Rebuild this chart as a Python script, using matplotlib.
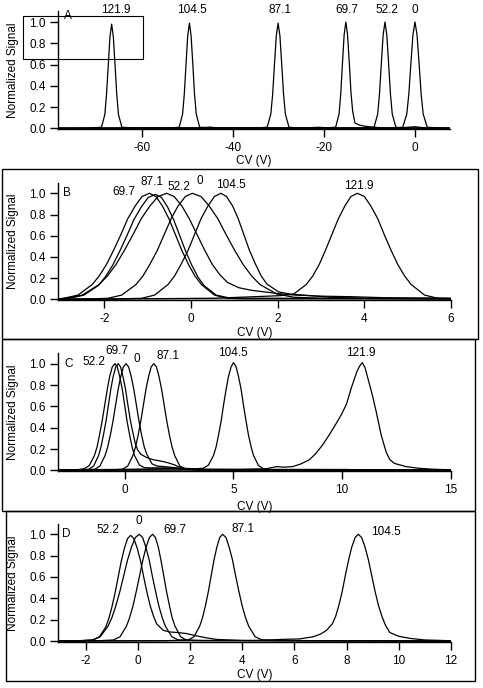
import matplotlib
matplotlib.use("Agg")
import matplotlib.pyplot as plt
from matplotlib.patches import Rectangle

plt.rcParams['font.family'] = ['Liberation Sans', 'DejaVu Sans']
plt.rcParams['font.size'] = 8.5
plt.rcParams['axes.unicode_minus'] = False

# ---------------- panel A ----------------
a_x_1219 = [-78.5, -72, -68.95, -68.2, -67.83, -67.45, -67.08, -66.7, -66.33, -65.95, -65.58, -65.2, -64.45, -61, -57, -55, 7.7]
a_y_1219 = [0.0, 0.002, 0.01, 0.13, 0.32, 0.59, 0.86, 0.98, 0.86, 0.59, 0.32, 0.13, 0.01, 0.003, 0.006, 0.002, 0.0]
a_x_1045 = [-78.5, -55, -51.85, -51.1, -50.73, -50.35, -49.98, -49.6, -49.23, -48.85, -48.48, -48.1, -47.35, -46, -45, -43.5, 7.7]
a_y_1045 = [0.0, 0.002, 0.01, 0.135, 0.32, 0.60, 0.87, 0.99, 0.87, 0.60, 0.32, 0.135, 0.01, 0.008, 0.012, 0.003, 0.0]
a_x_871 = [-78.5, -36, -32.5, -31.7, -31.3, -30.9, -30.5, -30.1, -29.7, -29.3, -28.9, -28.5, -27.7, -25, -21, -19, 7.7]
a_y_871 = [0.0, 0.002, 0.01, 0.135, 0.32, 0.60, 0.87, 0.99, 0.87, 0.60, 0.32, 0.135, 0.01, 0.003, 0.01, 0.002, 0.0]
a_x_697 = [-78.5, -21, -17.45, -16.7, -16.33, -15.95, -15.58, -15.2, -14.83, -14.45, -14.08, -13.7, -13.2, -12.2, -11.0, -9.0, -6, 7.7]
a_y_697 = [0.0, 0.002, 0.01, 0.135, 0.32, 0.61, 0.88, 1.0, 0.88, 0.62, 0.34, 0.16, 0.05, 0.03, 0.02, 0.01, 0.003, 0.0]
a_x_522 = [-78.5, -12, -9.0, -8.2, -7.8, -7.4, -7.0, -6.6, -6.2, -5.8, -5.4, -5.0, -4.2, -3, -1, 0, 1, 2.5, 7.7]
a_y_522 = [0.0, 0.002, 0.01, 0.135, 0.325, 0.61, 0.88, 1.0, 0.88, 0.61, 0.325, 0.135, 0.01, 0.005, 0.012, 0.015, 0.01, 0.002, 0.0]
a_x_0 = [-78.5, -6, -2.7, -1.8, -1.35, -0.9, -0.45, 0.0, 0.45, 0.9, 1.35, 1.8, 2.7, 7.7]
a_y_0 = [0.0, 0.002, 0.01, 0.135, 0.325, 0.61, 0.88, 1.0, 0.88, 0.61, 0.325, 0.135, 0.01, 0.0]
a_labels = ['121.9', '104.5', '87.1', '69.7', '52.2', '0']
a_label_x = [-65.9, -49.1, -29.7, -15.0, -6.1, 0.0]
a_label_y = [1.113, 1.113, 1.113, 1.113, 1.113, 1.113]

# ---------------- panel B ----------------
b_x_697 = [-3.07, -2.94, -2.61, -2.28, -2.12, -1.95, -1.79, -1.62, -1.46, -1.29, -1.13, -0.96, -0.81, -0.66, -0.51, -0.36, -0.21, -0.06, 0.09, 0.24, 0.54, 0.84, 1.2, 6.0]
b_y_697 = [0.003, 0.01, 0.04, 0.14, 0.22, 0.33, 0.46, 0.61, 0.76, 0.88, 0.97, 1.0, 0.97, 0.88, 0.76, 0.61, 0.46, 0.33, 0.22, 0.14, 0.04, 0.01, 0.005, 0.005]
b_x_871 = [-3.07, -2.80, -2.47, -2.14, -1.98, -1.81, -1.65, -1.48, -1.32, -1.15, -0.99, -0.82, -0.68, -0.54, -0.40, -0.26, -0.12, 0.02, 0.16, 0.30, 0.58, 0.86, 1.3, 6.0]
b_y_871 = [0.004, 0.01, 0.04, 0.13, 0.21, 0.32, 0.45, 0.60, 0.75, 0.87, 0.96, 0.99, 0.96, 0.87, 0.75, 0.60, 0.45, 0.32, 0.21, 0.13, 0.04, 0.015, 0.01, 0.005]
b_x_522 = [-3.07, -2.90, -2.51, -2.12, -1.93, -1.73, -1.54, -1.34, -1.15, -0.95, -0.76, -0.56, -0.39, -0.21, -0.04, 0.14, 0.32, 0.49, 0.67, 0.84, 1.1, 1.4, 1.7, 2.0, 2.4, 3.0, 3.7, 4.5, 6.0]
b_y_522 = [0.005, 0.01, 0.04, 0.14, 0.22, 0.33, 0.46, 0.61, 0.76, 0.88, 0.97, 1.0, 0.97, 0.88, 0.76, 0.61, 0.46, 0.33, 0.23, 0.16, 0.11, 0.085, 0.07, 0.055, 0.04, 0.03, 0.025, 0.015, 0.01]
b_x_0 = [-3.07, -2.3, -1.92, -1.60, -1.27, -1.11, -0.95, -0.78, -0.62, -0.46, -0.30, -0.13, 0.03, 0.23, 0.42, 0.62, 0.81, 1.01, 1.20, 1.40, 1.59, 1.98, 2.37, 3.0, 6.0]
b_y_0 = [0.0, 0.004, 0.01, 0.04, 0.14, 0.22, 0.33, 0.46, 0.61, 0.76, 0.88, 0.97, 1.0, 0.97, 0.88, 0.76, 0.61, 0.46, 0.33, 0.22, 0.14, 0.05, 0.02, 0.01, 0.005]
b_x_1045 = [-3.07, -1.8, -1.14, -0.84, -0.53, -0.38, -0.23, -0.07, 0.08, 0.23, 0.39, 0.54, 0.69, 0.82, 0.96, 1.09, 1.22, 1.35, 1.49, 1.62, 1.75, 2.02, 2.28, 2.6, 3.2, 4.0, 6.0]
b_y_1045 = [0.0, 0.003, 0.01, 0.04, 0.14, 0.22, 0.33, 0.46, 0.61, 0.76, 0.88, 0.97, 1.0, 0.97, 0.88, 0.76, 0.61, 0.46, 0.33, 0.22, 0.145, 0.07, 0.05, 0.04, 0.02, 0.01, 0.005]
b_x_1219 = [-3.07, 0.5, 1.78, 2.07, 2.37, 2.66, 2.81, 2.96, 3.10, 3.25, 3.40, 3.55, 3.69, 3.84, 4.00, 4.15, 4.31, 4.46, 4.62, 4.77, 4.93, 5.08, 5.39, 5.70, 6.01]
b_y_1219 = [0.0, 0.01, 0.03, 0.035, 0.05, 0.14, 0.22, 0.33, 0.46, 0.61, 0.76, 0.88, 0.97, 1.0, 0.97, 0.88, 0.76, 0.61, 0.46, 0.33, 0.22, 0.14, 0.04, 0.01, 0.003]
b_gray_x = [-3.07, 6.0]
b_gray_y = [0.002, 0.012]
b_labels = ['69.7', '87.1', '52.2', '0', '104.5', '121.9']
b_label_x = [-1.56, -0.91, -0.28, 0.21, 0.93, 3.88]
b_label_y = [1.01, 1.11, 1.06, 1.12, 1.08, 1.07]

# ---------------- panel C ----------------
c_x_522 = [-3.08, -2.3, -1.87, -1.64, -1.40, -1.28, -1.17, -1.05, -0.93, -0.81, -0.70, -0.58, -0.46, -0.35, -0.24, -0.12, -0.01, 0.10, 0.22, 0.33, 0.44, 0.67, 0.89, 1.5, 2.4, 3.2, 15.0]
c_y_522 = [0.0, 0.003, 0.015, 0.045, 0.14, 0.22, 0.33, 0.46, 0.61, 0.76, 0.88, 0.97, 1.0, 0.97, 0.88, 0.76, 0.61, 0.46, 0.33, 0.22, 0.14, 0.05, 0.025, 0.02, 0.02, 0.005, 0.0]
c_x_697 = [-3.08, -2.2, -1.66, -1.44, -1.21, -1.10, -0.99, -0.87, -0.76, -0.65, -0.54, -0.42, -0.31, -0.20, -0.09, 0.03, 0.14, 0.25, 0.37, 0.48, 0.59, 0.74, 1.0, 1.3, 1.7, 2.0, 2.3, 2.5, 2.8, 3.5, 15.0]
c_y_697 = [0.0, 0.003, 0.01, 0.04, 0.14, 0.22, 0.33, 0.46, 0.61, 0.76, 0.88, 0.97, 1.0, 0.97, 0.88, 0.76, 0.61, 0.47, 0.35, 0.25, 0.19, 0.15, 0.12, 0.10, 0.085, 0.07, 0.05, 0.03, 0.015, 0.005, 0.0]
c_x_0 = [-3.08, -1.9, -1.39, -1.15, -0.91, -0.79, -0.67, -0.55, -0.43, -0.31, -0.19, -0.07, 0.05, 0.17, 0.29, 0.41, 0.53, 0.65, 0.77, 0.89, 1.01, 1.25, 1.49, 1.8, 2.3, 2.6, 15.0]
c_y_0 = [0.0, 0.003, 0.01, 0.04, 0.14, 0.22, 0.33, 0.46, 0.61, 0.76, 0.88, 0.97, 1.0, 0.97, 0.88, 0.76, 0.61, 0.46, 0.33, 0.22, 0.15, 0.06, 0.04, 0.035, 0.025, 0.01, 0.0]
c_x_871 = [-3.08, -0.6, -0.11, 0.13, 0.37, 0.49, 0.61, 0.73, 0.85, 0.97, 1.09, 1.21, 1.33, 1.45, 1.57, 1.69, 1.81, 1.93, 2.05, 2.17, 2.29, 2.53, 2.77, 3.3, 15.0]
c_y_871 = [0.0, 0.003, 0.01, 0.04, 0.14, 0.22, 0.33, 0.46, 0.61, 0.76, 0.88, 0.97, 1.0, 0.97, 0.88, 0.76, 0.61, 0.46, 0.33, 0.22, 0.14, 0.04, 0.015, 0.005, 0.0]
c_x_1045 = [-3.08, 1.0, 2.5, 3.3, 3.62, 3.85, 4.08, 4.20, 4.31, 4.43, 4.54, 4.66, 4.77, 4.89, 5.0, 5.12, 5.23, 5.35, 5.46, 5.58, 5.69, 5.81, 5.92, 6.15, 6.38, 6.8, 15.0]
c_y_1045 = [0.0, 0.01, 0.02, 0.015, 0.02, 0.05, 0.14, 0.22, 0.33, 0.46, 0.61, 0.76, 0.88, 0.97, 1.01, 0.97, 0.88, 0.76, 0.61, 0.46, 0.33, 0.22, 0.14, 0.045, 0.015, 0.005, 0.0]
c_x_1219 = [-3.08, 5.0, 6.5, 7.0, 7.3, 7.73, 8.1, 8.5, 8.8, 9.11, 9.4, 9.7, 9.96, 10.2, 10.42, 10.68, 10.8, 10.93, 11.06, 11.19, 11.4, 11.57, 11.8, 12.03, 12.2, 12.41, 12.94, 13.5, 14.2, 15.0]
c_y_1219 = [0.0, 0.005, 0.015, 0.035, 0.03, 0.035, 0.06, 0.10, 0.16, 0.24, 0.33, 0.43, 0.52, 0.62, 0.77, 0.925, 0.975, 1.01, 0.96, 0.86, 0.70, 0.55, 0.33, 0.17, 0.10, 0.065, 0.035, 0.02, 0.01, 0.005]
c_gray1_x = [-3.08, 1.0, 1.6, 2.4, 10.27]
c_gray1_y = [0.0, 0.01, 0.03, 0.01, 0.005]
c_gray2_x = [-3.08, 15.0]
c_gray2_y = [0.0, 0.0]
c_labels = ['52.2', '69.7', '0', '87.1', '104.5', '121.9']
c_label_x = [-1.41, -0.38, 0.54, 1.99, 4.97, 10.88]
c_label_y = [1.02, 1.12, 1.04, 1.07, 1.10, 1.10]

# ---------------- panel D ----------------
d_x_522 = [-3.07, -2.2, -1.73, -1.49, -1.25, -1.13, -1.01, -0.89, -0.77, -0.65, -0.53, -0.41, -0.29, -0.17, -0.04, 0.09, 0.21, 0.34, 0.46, 0.59, 0.71, 0.96, 1.21, 1.5, 1.86, 2.2, 2.62, 3.0, 4.0, 12.0]
d_y_522 = [0.0, 0.003, 0.01, 0.04, 0.13, 0.21, 0.32, 0.45, 0.60, 0.75, 0.87, 0.96, 0.99, 0.96, 0.87, 0.75, 0.60, 0.45, 0.33, 0.23, 0.16, 0.10, 0.085, 0.08, 0.07, 0.05, 0.03, 0.015, 0.005, 0.0]
d_x_0 = [-3.07, -2.3, -1.76, -1.46, -1.16, -1.01, -0.86, -0.71, -0.56, -0.41, -0.26, -0.11, 0.04, 0.17, 0.29, 0.42, 0.54, 0.67, 0.79, 0.92, 1.04, 1.29, 1.54, 2.2, 12.0]
d_y_0 = [0.0, 0.003, 0.01, 0.04, 0.14, 0.22, 0.33, 0.46, 0.61, 0.76, 0.88, 0.97, 1.0, 0.97, 0.88, 0.76, 0.61, 0.46, 0.33, 0.22, 0.14, 0.04, 0.01, 0.005, 0.0]
d_x_697 = [-3.07, -1.5, -0.95, -0.70, -0.45, -0.33, -0.20, -0.08, 0.05, 0.18, 0.30, 0.43, 0.55, 0.66, 0.77, 0.87, 0.98, 1.09, 1.20, 1.30, 1.41, 1.63, 1.84, 2.4, 12.0]
d_y_697 = [0.0, 0.003, 0.01, 0.04, 0.14, 0.22, 0.33, 0.46, 0.61, 0.76, 0.88, 0.97, 1.0, 0.97, 0.88, 0.76, 0.61, 0.46, 0.33, 0.22, 0.14, 0.04, 0.01, 0.005, 0.0]
d_x_871 = [-3.07, 1.0, 1.92, 2.14, 2.36, 2.47, 2.58, 2.69, 2.80, 2.91, 3.02, 3.13, 3.24, 3.37, 3.49, 3.62, 3.74, 3.87, 3.99, 4.12, 4.24, 4.49, 4.74, 5.3, 12.0]
d_y_871 = [0.0, 0.003, 0.01, 0.04, 0.14, 0.22, 0.33, 0.46, 0.61, 0.76, 0.88, 0.97, 1.0, 0.97, 0.88, 0.76, 0.61, 0.46, 0.33, 0.22, 0.14, 0.04, 0.012, 0.005, 0.0]
d_x_1045 = [-3.07, 4.5, 5.0, 5.5, 6.2, 6.72, 7.0, 7.23, 7.45, 7.58, 7.70, 7.83, 7.95, 8.08, 8.20, 8.33, 8.45, 8.58, 8.71, 8.84, 8.97, 9.10, 9.23, 9.36, 9.49, 9.66, 10.0, 10.43, 11.0, 12.0]
d_y_1045 = [0.0, 0.005, 0.01, 0.015, 0.02, 0.04, 0.065, 0.10, 0.16, 0.23, 0.33, 0.46, 0.61, 0.76, 0.88, 0.97, 1.0, 0.97, 0.88, 0.76, 0.61, 0.46, 0.33, 0.23, 0.15, 0.08, 0.045, 0.025, 0.01, 0.003]
d_labels = ['52.2', '0', '69.7', '87.1', '104.5']
d_label_x = [-1.15, 0.04, 1.41, 4.03, 9.5]
d_label_y = [1.04, 1.12, 1.04, 1.05, 1.02]

W, H = 483, 688
fig = plt.figure(figsize=(W / 100, H / 100), dpi=100)


def px_axes(left, right, top, bottom):
    return fig.add_axes([left / W, 1 - bottom / H, (right - left) / W, (bottom - top) / H])


def style(ax, xlim, xticks, letter, letter_xy, xlab_y):
    ax.set_xlim(*xlim)
    ax.set_ylim(-0.01, 1.1)
    ax.set_xticks(xticks)
    ax.set_yticks([0.0, 0.2, 0.4, 0.6, 0.8, 1.0])
    ax.set_yticklabels(['0.0', '0.2', '0.4', '0.6', '0.8', '1.0'])
    for s in ['top', 'right']:
        ax.spines[s].set_visible(False)
    for s in ['left', 'bottom']:
        ax.spines[s].set_linewidth(1.0)
    ax.tick_params(direction='out', length=6, width=1.0, pad=3, labelsize=8.5)
    ax.set_xlabel('CV (V)', fontsize=8.5)
    ax.xaxis.set_label_coords(0.5, xlab_y)
    ax.set_ylabel('Normalized Signal', fontsize=8.5)
    ax.yaxis.set_label_coords(-0.0995, 0.5)
    ax.text(letter_xy[0], letter_xy[1], letter, ha='center', va='center', fontsize=8.5)


def curves(ax, xs, ys, labels, lx, ly):
    for x, y in zip(xs, ys):
        ax.plot(x, y, color='black', lw=0.9)
    for t, x, y in zip(labels, lx, ly):
        ax.text(x, y, t, ha='center', va='center', fontsize=8.5, clip_on=False)


# panel A
ax_a = px_axes(58, 450, 11.4, 129.4)
curves(ax_a, [a_x_1219, a_x_1045, a_x_871, a_x_697, a_x_522, a_x_0],
       [a_y_1219, a_y_1045, a_y_871, a_y_697, a_y_522, a_y_0],
       a_labels, a_label_x, a_label_y)
style(ax_a, (-78.5, 7.7), [-60, -40, -20, 0], 'A', (-76.3, 1.056), -0.215)

# panel B
ax_b = px_axes(58, 451, 182.7, 300.4)
ax_b.plot(b_gray_x, b_gray_y, color='#888888', lw=1.2)
curves(ax_b, [b_x_697, b_x_871, b_x_522, b_x_0, b_x_1045, b_x_1219],
       [b_y_697, b_y_871, b_y_522, b_y_0, b_y_1045, b_y_1219],
       b_labels, b_label_x, b_label_y)
style(ax_b, (-3.07, 6.0), [-2, 0, 2, 4, 6], 'B', (-2.86, 1.0), -0.23)

# panel C
ax_c = px_axes(58, 450.7, 353, 471.4)
ax_c.plot(c_gray1_x, c_gray1_y, color='#888888', lw=1.5)
ax_c.plot(c_gray2_x, c_gray2_y, color='#888888', lw=1.5)
curves(ax_c, [c_x_522, c_x_697, c_x_0, c_x_871, c_x_1045, c_x_1219],
       [c_y_522, c_y_697, c_y_0, c_y_871, c_y_1045, c_y_1219],
       c_labels, c_label_x, c_label_y)
style(ax_c, (-3.08, 15.0), [0, 5, 10, 15], 'C', (-2.6, 1.0), -0.25)

# panel D
ax_d = px_axes(58.3, 450.7, 523.6, 642.1)
curves(ax_d, [d_x_522, d_x_0, d_x_697, d_x_871, d_x_1045],
       [d_y_522, d_y_0, d_y_697, d_y_871, d_y_1045],
       d_labels, d_label_x, d_label_y)
style(ax_d, (-3.07, 12.0), [-2, 0, 2, 4, 6, 8, 10, 12], 'D', (-2.75, 1.0), -0.225)

# frames around B, C, D and the small box in A (pixel positions)
for (l, t, r, b), lw in [((2, 169, 478, 339), 1.0), ((2, 339, 475, 511), 1.0),
                         ((6, 511, 475, 681), 1.0), ((23, 16, 143, 59), 0.8)]:
    fig.add_artist(Rectangle((l / W, 1 - b / H), (r - l) / W, (b - t) / H,
                             transform=fig.transFigure, fill=False,
                             edgecolor='black', lw=lw))

fig.savefig('out.png', dpi=100)
